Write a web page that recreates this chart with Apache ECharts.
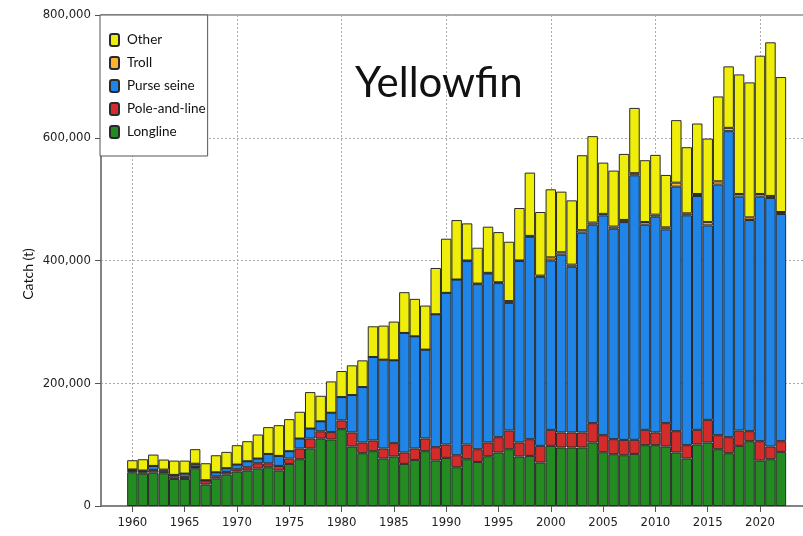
<!DOCTYPE html>
<html>
<head>
<meta charset="utf-8">
<script src="https://cdn.jsdelivr.net/npm/echarts@6/dist/echarts.min.js"></script>
<style>
html,body{margin:0;padding:0;background:#fff;}
#chart{width:803px;height:536px;}
</style>
</head>
<body>
<div id="chart"></div>
<script>
// ---- data (tonnes) ----
const years = [];
for (let y = 1960; y <= 2022; y++) years.push(y);

const longline = [
 55000,52800,54400,53300,44100,44100,61500,35000,44600,51200,
 56100,57700,61000,63100,57700,68600,76200,93900,109700,108400,
 125200,96900,86000,89300,77300,80600,68600,75100,89300,74000,
 78400,63100,76200,71800,81100,87100,92500,80600,81600,70800,
 98000,95300,95300,95300,103400,87600,84400,82700,84900,99100,
 99100,96900,87100,77300,100200,103400,92500,86000,98000,105600,
 74000,76200,88200];

const poleAndLine = [
 2500,2000,4400,2500,4400,3300,2000,6500,3800,4400,
 3800,5400,8700,6500,7600,8700,17400,16000,12000,12000,
 14200,22900,17400,17400,16300,21800,18500,18500,20700,21800,
 21800,19600,23900,20700,22400,25000,30500,22900,27200,27200,
 26100,24500,24500,24500,31600,27800,24500,25000,22900,25000,
 20700,38100,34800,21800,23900,37000,22900,26100,25000,16300,
 31600,20700,17400];

const purseSeine = [
 1000,2000,6500,2000,2200,5400,4400,500,6500,6000,
 7600,9800,7600,15200,16300,12000,16300,16300,16300,31600,
 38100,61000,90400,136100,144800,135000,194900,182900,144800,216600,
 247100,286300,298900,268900,275400,251000,207900,295600,329800,275400,
 276000,289600,270000,325500,323300,358100,342900,354900,431000,334200,
 351600,315700,398400,374500,381000,316800,408200,498600,381000,344000,
 398400,405000,370100];

const troll = [
 1000,1000,0,1500,0,0,1000,0,0,0,
 0,0,0,0,0,0,0,0,0,0,
 0,0,0,0,0,0,0,0,0,0,
 0,0,1000,1000,1000,1500,3000,1000,1500,2000,
 5000,4000,3500,4000,3500,2500,3500,3500,3500,4400,
 3300,3300,6500,3300,3300,5400,5400,5400,4400,4400,
 4400,3300,3300];

const other = [
 15100,18400,18500,16400,23300,21200,23700,27700,27800,26600,
 31600,32700,39200,43700,50100,52200,43600,59400,41600,51000,
 42400,48400,43500,50000,55500,63100,66400,61000,71800,75400,
 88200,96900,60500,58400,75200,81700,96700,85400,103100,103600,
 110900,98800,104700,122200,140800,83500,91200,107600,106300,100700,
 97400,85400,101900,107700,114800,136100,138300,100200,194800,219900,
 225300,250300,219900];

const yTicks = [0, 200000, 400000, 600000, 800000];
const axisFirstYear = 1957, axisLastYear = 2025;

// ---- build category axis (padded years) ----
const cats = [];
for (let y = axisFirstYear; y <= axisLastYear; y++) cats.push(String(y));
function pad(arr) {
  const out = [];
  for (let y = axisFirstYear; y <= axisLastYear; y++) {
    const i = years.indexOf(y);
    out.push(i >= 0 ? arr[i] : null);
  }
  return out;
}

const FONT = 'Lato';
const NARROW = '"Liberation Sans Narrow", "DejaVu Sans Condensed", sans-serif';

const chart = echarts.init(document.getElementById('chart'), null, {renderer: 'canvas'});
const border = {borderColor: '#2a2a2a', borderWidth: 1};
function mk(name, data, color) {
  return {
    name, type: 'bar', stack: 'catch', data: pad(data),
    barCategoryGap: '0%', barGap: '0%',
    itemStyle: Object.assign({color}, border),
    emphasis: {disabled: true},
    animation: false
  };
}

const showLabel = (idx, val) => { const y = +val; return y % 5 === 0 && y >= 1960 && y <= 2020; };
const showSplit = (idx, val) => { const y = +val; return y % 10 === 0 && y >= 1960 && y <= 2020; };

chart.setOption({
  animation: false,
  backgroundColor: '#ffffff',
  title: {
    text: 'Yellowfin', left: 350, top: 57,
    textStyle: {fontFamily: FONT, fontSize: 42, fontWeight: 'normal', color: '#111'}
  },
  grid: {
    left: 101, top: 15, width: 711.3, height: 491,
    outerBoundsMode: 'none', containLabel: false,
    show: true, borderColor: '#555', borderWidth: 1, backgroundColor: 'transparent'
  },
  legend: {
    data: ['Other', 'Troll', 'Purse seine', 'Pole-and-line', 'Longline'],
    orient: 'vertical', left: 100, top: 15,
    padding: [18, 2, 17, 9], itemGap: 9, itemWidth: 9, itemHeight: 12,
    backgroundColor: '#fff', borderColor: '#555', borderWidth: 1,
    textStyle: {fontFamily: FONT, fontSize: 13.5, color: '#111', padding: [0, 0, 0, 3]},
    selectedMode: false
  },
  xAxis: {
    type: 'category', data: cats, boundaryGap: false,
    axisLine: {show: true, lineStyle: {color: '#777', width: 1.5}},
    axisTick: {show: true, interval: showLabel, length: 6, lineStyle: {color: '#555'}},
    axisLabel: {interval: showLabel, margin: 10, fontFamily: NARROW, fontSize: 13, color: '#222'},
    splitLine: {show: true, interval: showSplit, lineStyle: {color: '#aaa', type: [2, 2], width: 1}}
  },
  yAxis: {
    type: 'value', min: yTicks[0], max: yTicks[yTicks.length - 1],
    interval: yTicks[1] - yTicks[0],
    axisLine: {show: true, lineStyle: {color: '#777', width: 1.5}},
    axisTick: {show: true, length: 6, lineStyle: {color: '#555'}},
    axisLabel: {margin: 10, fontFamily: NARROW, fontSize: 13, color: '#222',
      formatter: v => v.toLocaleString('en-US')},
    splitLine: {show: true, lineStyle: {color: '#aaa', type: [2, 2], width: 1}}
  },
  graphic: [{
    type: 'text', x: 28, y: 274, rotation: Math.PI / 2,
    style: {text: 'Catch (t)', fontFamily: FONT, fontSize: 14, fill: '#111',
      textAlign: 'center', textVerticalAlign: 'middle'}
  }],
  series: [
    mk('Longline', longline, '#238B22'),
    mk('Pole-and-line', poleAndLine, '#D42B2B'),
    mk('Purse seine', purseSeine, '#2085E8'),
    mk('Troll', troll, '#FDB32E'),
    mk('Other', other, '#EEEE0A')
  ]
});
</script>
</body>
</html>
